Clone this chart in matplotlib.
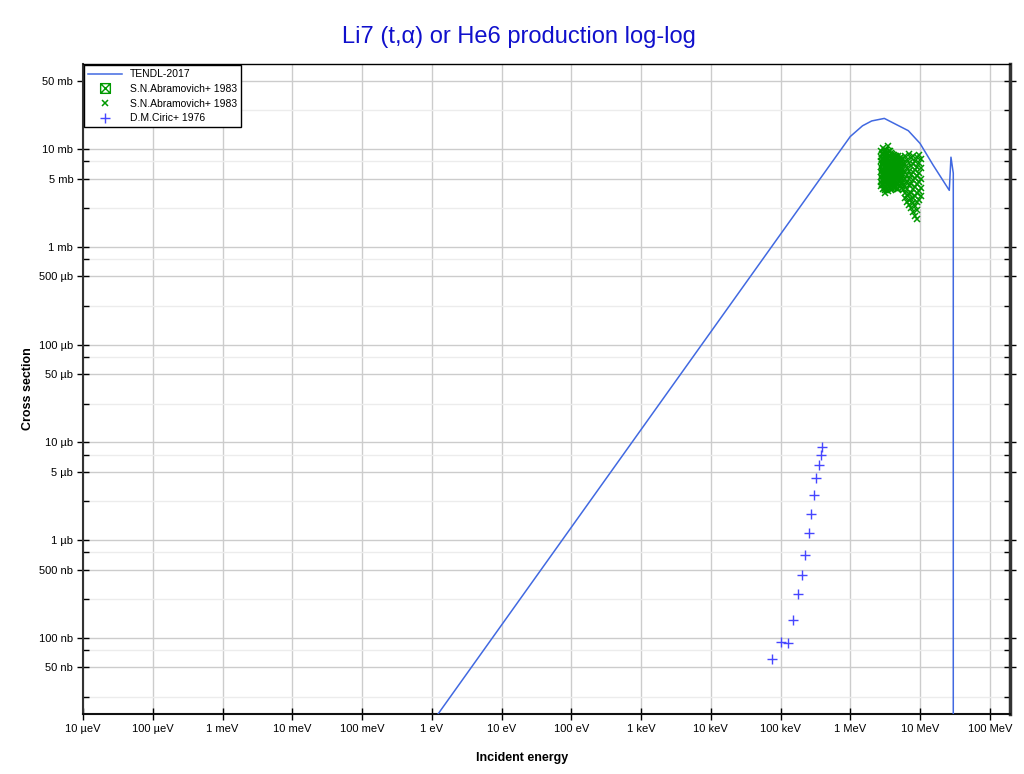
import numpy as np
import matplotlib.pyplot as plt
import matplotlib.path as mpath
from matplotlib.ticker import FixedLocator, FuncFormatter, NullFormatter

plt.rcParams['font.family'] = ['Liberation Sans', 'DejaVu Sans']

# TENDL-2017 evaluation (energy in eV, cross section in barn)
tendl_e = [1e-5, 1.0e6, 1.5e6, 2.03e6, 3.08e6, 6.8e6, 1.0e7, 1.54e7, 2.63e7, 2.78e7, 3.0e7, 3.0e7]
tendl_xs = [1.35e-13, 0.0135, 0.0174, 0.0195, 0.0207, 0.0155, 0.0115, 0.0069, 0.0038, 0.0083, 0.0057, 1e-12]

# S.N.Abramovich+ 1983 (energy in MeV, cross section in mb), grouped by energy
abr_e_cols = [2.75, 2.82, 2.9, 3.0, 3.1, 3.2, 3.3, 3.4, 3.5, 3.62, 3.75, 3.88, 4.0, 4.15,
              4.3, 4.45, 4.6, 4.75, 4.9, 5.1, 5.3, 5.5, 5.7,
              6.1, 6.5, 7.0, 7.5, 8.0, 8.6, 9.2, 9.8, 10.3]
abr_xs_cols = [
    [9.6, 8.4, 7.5, 6.6, 5.9, 5.2, 4.6, 4.2],
    [9.0, 8.0, 7.1, 6.2, 5.6, 4.9, 4.4],
    [10.2, 8.9, 7.8, 7.0, 6.2, 5.5, 4.9, 4.3, 3.9],
    [9.3, 8.3, 7.4, 6.6, 5.8, 5.2, 4.6, 4.0],
    [9.4, 8.2, 7.3, 6.4, 5.7, 5.0, 4.5, 3.8],
    [9.8, 8.6, 7.7, 6.8, 6.0, 5.4, 4.8, 4.2, 3.6],
    [9.9, 8.7, 7.6, 6.8, 6.0, 5.3, 4.7, 4.1],
    [9.2, 8.1, 7.2, 6.5, 5.7, 5.1, 4.4, 3.9],
    [10.8, 9.1, 8.0, 7.1, 6.3, 5.6, 4.9, 4.4, 3.7],
    [9.7, 8.5, 7.6, 6.7, 6.0, 5.3, 4.7, 4.2],
    [9.5, 8.3, 7.4, 6.5, 5.8, 5.1, 4.5, 4.0],
    [9.1, 8.1, 7.0, 6.2, 5.5, 4.9, 4.3, 3.8],
    [9.0, 8.0, 7.2, 6.3, 5.5, 4.9, 4.3, 3.9],
    [8.7, 7.6, 6.7, 5.9, 5.2, 4.6, 4.1],
    [8.8, 7.8, 6.9, 6.1, 5.4, 4.8, 4.2],
    [8.5, 7.4, 6.5, 5.7, 5.1, 4.5, 4.0],
    [8.6, 7.7, 6.8, 6.0, 5.3, 4.6, 4.1],
    [8.3, 7.3, 6.4, 5.6, 5.0, 4.4, 3.9],
    [8.5, 7.5, 6.7, 5.8, 5.2, 4.5, 3.9],
    [8.2, 7.1, 6.2, 5.5, 4.8, 4.2],
    [8.4, 7.4, 6.5, 5.7, 5.0, 4.4],
    [7.9, 6.9, 6.1, 5.3, 4.6, 4.0],
    [8.0, 7.2, 6.3, 5.6, 4.9, 4.3, 3.8],
    [8.6, 7.0, 5.9, 5.0, 4.2, 3.6, 3.2],
    [7.8, 6.4, 5.4, 4.6, 3.9, 3.4, 2.9],
    [9.0, 7.3, 6.0, 5.0, 4.3, 3.5, 3.0, 2.7],
    [8.2, 6.7, 5.5, 4.4, 3.6, 3.1, 2.5],
    [8.6, 7.0, 5.8, 4.8, 3.9, 3.2, 2.8, 2.3],
    [7.5, 6.2, 5.1, 4.1, 3.3, 2.6, 2.1],
    [8.4, 6.6, 5.3, 4.4, 3.6, 2.9, 2.4, 1.95],
    [8.8, 7.2, 5.7, 4.6, 3.7, 3.0],
    [7.9, 6.4, 5.0, 4.0, 3.3],
]
# second Abramovich set (boxed markers), hidden inside the cloud
abr2_e = [3.2, 3.6, 4.1, 4.7]
abr2_xs = [6.6, 6.2, 5.9, 5.6]

# D.M.Ciric+ 1976 (energy in keV, cross section in nb)
ciric_e = [76, 101, 127, 151, 176, 201, 227, 254, 274, 302, 326, 353, 377, 397]
ciric_xs = [60, 90, 89, 151, 281, 443, 700, 1190, 1840, 2900, 4350, 5910, 7380, 8900]

x_ticks = [1e-5, 1e-4, 1e-3, 1e-2, 1e-1, 1, 1e1, 1e2, 1e3, 1e4, 1e5, 1e6, 1e7, 1e8]
x_labels = ['10 µeV', '100 µeV', '1 meV', '10 meV', '100 meV', '1 eV', '10 eV', '100 eV',
            '1 keV', '10 keV', '100 keV', '1 MeV', '10 MeV', '100 MeV']
y_ticks = [5e-8, 1e-7, 5e-7, 1e-6, 5e-6, 1e-5, 5e-5, 1e-4, 5e-4, 1e-3, 5e-3, 1e-2, 5e-2]
y_labels = ['50 nb', '100 nb', '500 nb', '1 µb', '5 µb', '10 µb', '50 µb', '100 µb',
            '500 µb', '1 mb', '5 mb', '10 mb', '50 mb']


def boxed_x():
    verts = [(-1, -1), (1, -1), (1, 1), (-1, 1), (-1, -1),
             (-1, -1), (1, 1), (-1, 1), (1, -1)]
    codes = [mpath.Path.MOVETO] + [mpath.Path.LINETO] * 4 + \
            [mpath.Path.MOVETO, mpath.Path.LINETO, mpath.Path.MOVETO, mpath.Path.LINETO]
    return mpath.Path(verts, codes)


abr_e, abr_xs = [], []
for e, col in zip(abr_e_cols, abr_xs_cols):
    for v in col:
        abr_e.append(e * 1e6)
        abr_xs.append(v * 1e-3)

fig = plt.figure(figsize=(10.24, 7.74), dpi=100)
ax = fig.add_axes([0.0811, 0.0775, 0.9052, 0.8398])

ax.plot(tendl_e, tendl_xs, color='#4169e1', lw=1.1, label='TENDL-2017', zorder=3)
ax.plot(np.array(abr2_e) * 1e6, np.array(abr2_xs) * 1e-3, ls='none', marker=boxed_x(),
        ms=7, mec='#009900', mfc='none', mew=1, label='S.N.Abramovich+ 1983', zorder=4)
ax.plot(abr_e, abr_xs, ls='none', marker='x', ms=4.5, mec='#009900', mew=1.1,
        label='S.N.Abramovich+ 1983', zorder=4)
ax.plot(np.array(ciric_e) * 1e3, np.array(ciric_xs) * 1e-9, ls='none', marker='+', ms=6.5,
        mec='#4646ff', mew=1, label='D.M.Ciric+ 1976', zorder=4)

ax.set_xscale('log')
ax.set_yscale('log')
ax.set_xlim(1e-5, 1.95e8)
ax.set_ylim(1.66e-8, 0.0746)

ax.xaxis.set_major_locator(FixedLocator(x_ticks))
ax.xaxis.set_major_formatter(FuncFormatter(lambda v, p: x_labels[x_ticks.index(v)] if v in x_ticks else ''))
ax.xaxis.set_minor_locator(FixedLocator([]))
ax.yaxis.set_major_locator(FixedLocator(y_ticks))
ax.yaxis.set_major_formatter(FuncFormatter(lambda v, p: y_labels[y_ticks.index(v)] if v in y_ticks else ''))
y_minor = [m * 10.0 ** k for k in range(-9, -1) for m in (2.5, 7.5)]
ax.yaxis.set_minor_locator(FixedLocator(y_minor))
ax.yaxis.set_minor_formatter(NullFormatter())

ax.grid(True, which='major', color='#cccccc', lw=1)
ax.grid(True, which='minor', axis='y', color='#ececec', lw=1)
ax.set_axisbelow(True)

ax.tick_params(which='major', direction='inout', length=8, width=1, labelsize=8, pad=3,
               right=True, labelright=False)
ax.tick_params(which='minor', direction='in', length=4, width=1, right=True)

for side, lw, col in (('left', 1.5, '#333333'), ('bottom', 1.5, '#111111'),
                      ('right', 2.5, '#333333'), ('top', 1.0, '#000000')):
    ax.spines[side].set_linewidth(lw)
    ax.spines[side].set_color(col)

ax.set_xlabel('Incident energy', fontsize=9, fontweight='bold')
ax.xaxis.set_label_coords(0.474, -0.058)
ax.set_ylabel('Cross section', fontsize=9, fontweight='bold')
ax.yaxis.set_label_coords(-0.053, 0.5)

fig.suptitle('Li7 (t,α) or He6 production log-log', color='#1010cc', fontsize=17,
             x=0.507, y=0.966)

leg = ax.legend(loc='upper left', bbox_to_anchor=(0.0, 1.0), borderaxespad=0.1,
                fontsize=7.5, frameon=True, fancybox=False, edgecolor='black',
                framealpha=1, handlelength=3.2, labelspacing=0.45, borderpad=0.4)
leg.get_frame().set_linewidth(1)

fig.savefig('out.png', dpi=100)
